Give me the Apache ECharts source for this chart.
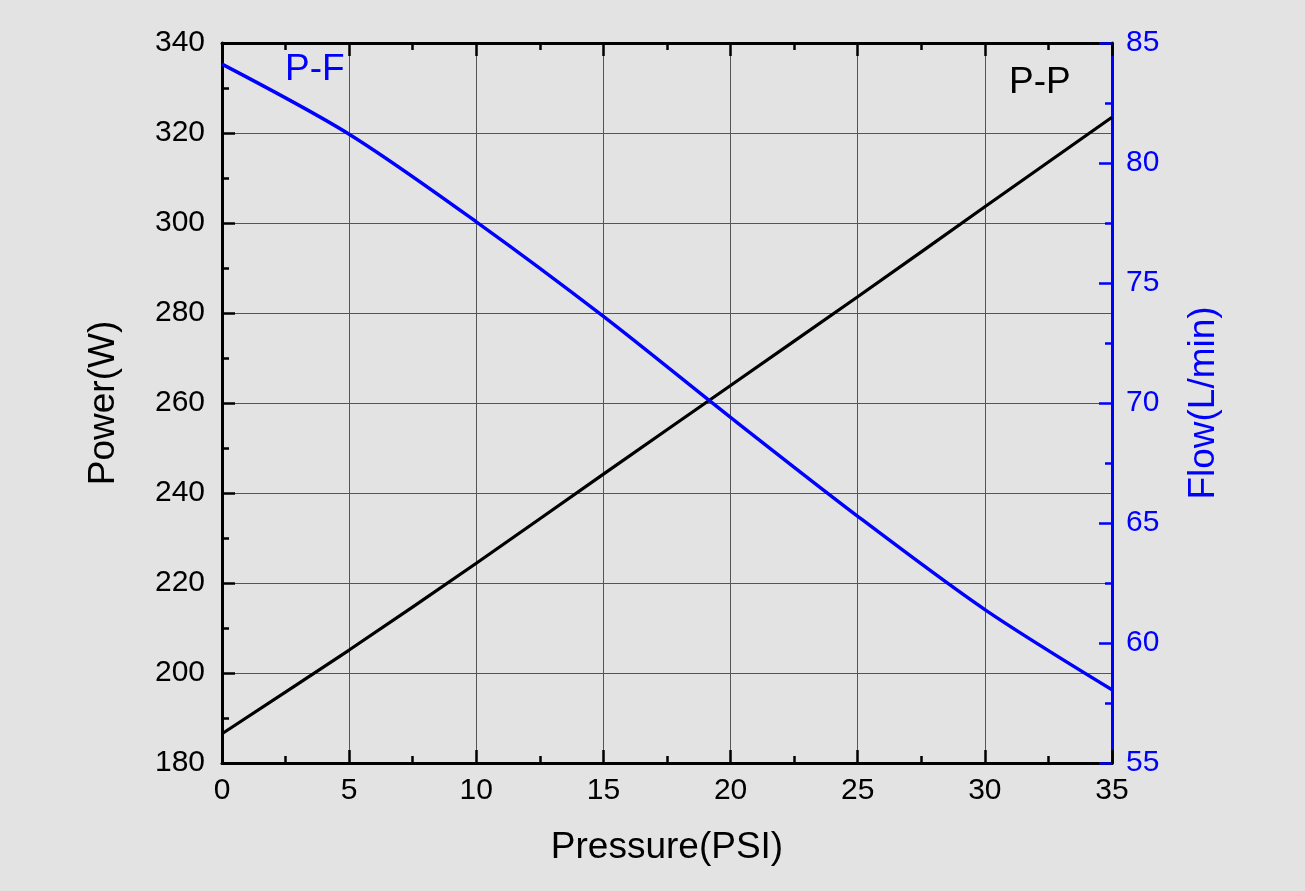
<!DOCTYPE html>
<html>
<head>
<meta charset="utf-8">
<script src="https://cdn.jsdelivr.net/npm/echarts@6/dist/echarts.min.js"></script>
<style>
html,body{margin:0;padding:0;background:#e3e3e3;}
#chart{width:1305px;height:891px;}
</style>
</head>
<body>
<div id="chart"></div>
<script>
const pressure = [0, 5, 10, 15, 20, 25, 30, 35];
const power = [186.5, 205.1, 224.4, 244.2, 263.9, 283.6, 303.6, 323.5];
const flow = [84.12, 81.2, 77.55, 73.61, 69.4, 65.28, 61.39, 58.05];
const xTitle = 'Pressure(PSI)';
const yLeftTitle = 'Power(W)';
const yRightTitle = 'Flow(L/min)';
const labelPF = 'P-F';
const labelPP = 'P-P';

const FONT = '"Liberation Sans", Arial, sans-serif';
const BLUE = '#0000ff';

const chart = echarts.init(document.getElementById('chart'), null, {renderer: 'canvas'});
const tickCommon = {show: true, inside: true, length: 13, lineStyle: {width: 2.5}};
const minorCommon = {show: true, splitNumber: 2, length: 7, lineStyle: {width: 2.5}};

chart.setOption({
  backgroundColor: '#e3e3e3',
  animation: false,
  textStyle: {fontFamily: FONT},
  grid: {left: 222, right: 193, top: 43, bottom: 128, containLabel: false},
  xAxis: [
    {
      type: 'value', position: 'bottom', min: 0, max: 35, interval: 5,
      name: xTitle, nameLocation: 'middle', nameGap: 66,
      nameTextStyle: {fontSize: 37, color: '#000', fontFamily: FONT},
      axisLine: {show: true, onZero: false, lineStyle: {color: '#000', width: 3}},
      axisTick: {...tickCommon, lineStyle: {color: '#000', width: 2.5}},
      minorTick: {...minorCommon, lineStyle: {color: '#000', width: 2.5}},
      axisLabel: {fontSize: 30, color: '#000', margin: 13, fontFamily: FONT},
      splitLine: {show: true, lineStyle: {color: '#555', width: 1}}
    },
    {
      type: 'value', position: 'top', min: 0, max: 35, interval: 5,
      axisLine: {show: true, onZero: false, lineStyle: {color: '#000', width: 3}},
      axisTick: {...tickCommon, lineStyle: {color: '#000', width: 2.5}},
      minorTick: {...minorCommon, lineStyle: {color: '#000', width: 2.5}},
      axisLabel: {show: false},
      splitLine: {show: false}
    }
  ],
  yAxis: [
    {
      type: 'value', position: 'left', min: 180, max: 340, interval: 20,
      name: yLeftTitle, nameLocation: 'middle', nameGap: 100, nameRotate: 90,
      nameTextStyle: {fontSize: 37, color: '#000', fontFamily: FONT},
      axisLine: {show: true, onZero: false, lineStyle: {color: '#000', width: 3}},
      axisTick: {...tickCommon, lineStyle: {color: '#000', width: 2.5}},
      minorTick: {...minorCommon, lineStyle: {color: '#000', width: 2.5}},
      axisLabel: {fontSize: 30, color: '#000', margin: 17, fontFamily: FONT},
      splitLine: {show: true, lineStyle: {color: '#555', width: 1}}
    },
    {
      type: 'value', position: 'right', min: 55, max: 85, interval: 5,
      name: yRightTitle, nameLocation: 'middle', nameGap: 73, nameRotate: 90,
      nameTextStyle: {fontSize: 37, color: BLUE, fontFamily: FONT},
      axisLine: {show: true, onZero: false, lineStyle: {color: BLUE, width: 3}},
      axisTick: {...tickCommon, lineStyle: {color: BLUE, width: 2.5}},
      minorTick: {...minorCommon, lineStyle: {color: BLUE, width: 2.5}},
      axisLabel: {fontSize: 30, color: BLUE, margin: 14, fontFamily: FONT},
      splitLine: {show: false}
    }
  ],
  series: [
    {
      name: 'P-P', type: 'line', xAxisIndex: 0, yAxisIndex: 0,
      data: pressure.map((p, i) => [p, power[i]]),
      smooth: 0.3, symbol: 'none',
      lineStyle: {color: '#000', width: 3.2}
    },
    {
      name: 'P-F', type: 'line', xAxisIndex: 0, yAxisIndex: 1,
      data: pressure.map((p, i) => [p, flow[i]]),
      smooth: 0.3, symbol: 'none',
      lineStyle: {color: BLUE, width: 3.4}
    }
  ],
  graphic: [
    {type: 'text', left: 285, top: 51, style: {text: labelPF, fontSize: 37, fill: BLUE, fontFamily: FONT}},
    {type: 'text', left: 1009, top: 64, style: {text: labelPP, fontSize: 37, fill: '#000', fontFamily: FONT}}
  ]
});
</script>
</body>
</html>
